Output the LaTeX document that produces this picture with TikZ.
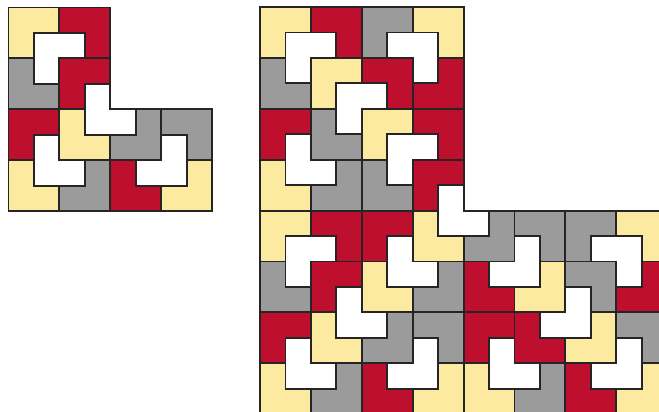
\documentclass[tikz,border=0pt]{standalone}
\usepackage{tikz}
\definecolor{chairyellow}{RGB}{251,234,160}
\definecolor{chairred}{RGB}{190,16,46}
\definecolor{chairgray}{RGB}{155,155,155}
\definecolor{chairedge}{RGB}{38,36,37}

\begin{document}
\begin{tikzpicture}[
    x=0.03cm, y=-0.03cm,
    cell/.style={draw=chairedge, line width=1.6pt, line join=miter},
    ycell/.style={cell, fill=chairyellow},
    rcell/.style={cell, fill=chairred},
    gcell/.style={cell, fill=chairgray},
    rim/.style={draw=chairedge, line width=1.6pt}
]
\useasboundingbox (0,0) rectangle (659,412);
\clip (0,0) rectangle (659,412);

% first stage: chair of size 4
\begin{scope}[shift={(8.5,7.5)}, x=1.527cm, y=-1.527cm]
\foreach \c/\r/\a/\s in {0/0/0/ycell, 1/0/270/rcell, 0/1/90/gcell,
    1/1/0/rcell, 1/2/90/ycell, 2/2/180/gcell,
    0/2/0/rcell, 0/3/90/ycell, 1/3/180/gcell,
    3/3/180/ycell, 2/3/90/rcell, 3/2/270/gcell}
  \draw[\s, rotate around={\a:(\c+.5,\r+.5)}] (\c,\r) -- ++(1,0) -- ++(0,.5)
    -- ++(-.5,0) -- ++(0,.5) -- ++(-.5,0) -- cycle;
\draw[rim] (0,0) -- (2,0) -- (2,2) -- (4,2) -- (4,4) -- (0,4) -- cycle;
\end{scope}

% second stage: chair of size 8
\begin{scope}[shift={(260,7)}, x=1.527cm, y=-1.527cm]
\foreach \c/\r/\a/\s in {0/0/0/ycell, 1/0/270/rcell, 0/1/90/gcell,
    3/0/270/ycell, 3/1/180/rcell, 2/0/0/gcell,
    1/1/0/ycell, 2/1/270/rcell, 1/2/90/gcell,
    0/2/0/rcell, 0/3/90/ycell, 1/3/180/gcell,
    2/2/0/ycell, 3/2/270/rcell, 2/3/90/gcell,
    3/3/0/rcell, 3/4/90/ycell, 4/4/180/gcell,
    2/4/0/rcell, 2/5/90/ycell, 3/5/180/gcell,
    5/5/180/ycell, 4/5/90/rcell, 5/4/270/gcell,
    0/4/0/ycell, 1/4/270/rcell, 0/5/90/gcell,
    1/5/0/rcell, 1/6/90/ycell, 2/6/180/gcell,
    0/6/0/rcell, 0/7/90/ycell, 1/7/180/gcell,
    3/7/180/ycell, 2/7/90/rcell, 3/6/270/gcell,
    6/6/180/ycell, 5/6/90/rcell, 6/5/270/gcell,
    7/4/270/ycell, 7/5/180/rcell, 6/4/0/gcell,
    7/7/180/ycell, 6/7/90/rcell, 7/6/270/gcell,
    4/6/0/rcell, 4/7/90/ycell, 5/7/180/gcell}
  \draw[\s, rotate around={\a:(\c+.5,\r+.5)}] (\c,\r) -- ++(1,0) -- ++(0,.5)
    -- ++(-.5,0) -- ++(0,.5) -- ++(-.5,0) -- cycle;
\draw[rim] (0,0) -- (4,0) -- (4,4) -- (8,4) -- (8,8) -- (0,8) -- cycle;
\end{scope}

\end{tikzpicture}
\end{document}
